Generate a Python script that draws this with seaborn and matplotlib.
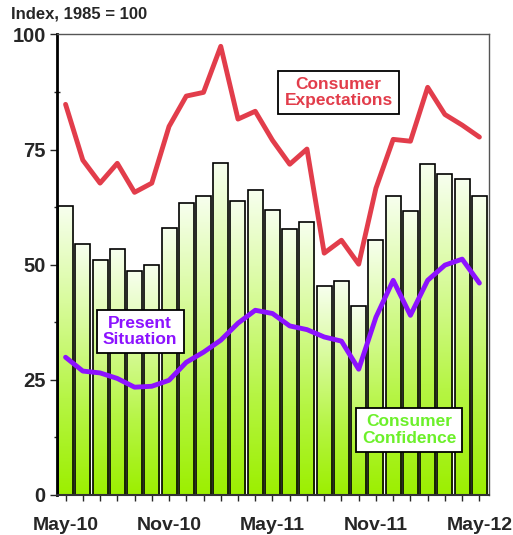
import numpy as np
import matplotlib
matplotlib.use("Agg")
import matplotlib.pyplot as plt
from matplotlib.colors import LinearSegmentedColormap
import seaborn as sns

# monthly index values, 1985 = 100
months = ["May-10", "Jun-10", "Jul-10", "Aug-10", "Sep-10", "Oct-10", "Nov-10",
          "Dec-10", "Jan-11", "Feb-11", "Mar-11", "Apr-11", "May-11", "Jun-11",
          "Jul-11", "Aug-11", "Sep-11", "Oct-11", "Nov-11", "Dec-11", "Jan-12",
          "Feb-12", "Mar-12", "Apr-12", "May-12"]
confidence = [62.7, 54.4, 51.0, 53.4, 48.6, 49.9, 57.9, 63.3, 64.9, 72.0, 63.9,
              66.2, 61.8, 57.7, 59.2, 45.3, 46.4, 41.0, 55.3, 64.9, 61.6, 71.8,
              69.6, 68.5, 64.9]
expectations = [84.8, 72.7, 67.7, 72.0, 65.7, 67.7, 80.0, 86.6, 87.4, 97.4, 81.6,
                83.3, 77.0, 71.8, 75.1, 52.5, 55.3, 50.1, 66.6, 77.2, 76.8, 88.5,
                82.6, 80.3, 77.7]
present = [29.9, 26.9, 26.5, 25.3, 23.4, 23.6, 24.9, 28.8, 31.0, 33.6, 37.3,
           40.1, 39.4, 36.7, 35.9, 34.3, 33.4, 27.3, 38.6, 46.6, 39.0, 46.6,
           49.9, 51.2, 46.0]
shown_labels = ["May-10", "Nov-10", "May-11", "Nov-11", "May-12"]

RED = "#e23d4b"
PURPLE = "#8c12ff"
LIME = "#6cf02a"

sns.set_style("white")
plt.rcParams["font.family"] = ["Liberation Sans", "DejaVu Sans"]
plt.rcParams["font.weight"] = "bold"

fig = plt.figure(figsize=(5.13, 5.35), dpi=100)
ax = fig.add_axes([0.111, 0.0748, 0.842, 0.861])

sns.barplot(x=months, y=confidence, ax=ax, width=0.87, color="white",
            edgecolor="black", linewidth=1.2, zorder=2)

# white-to-green gradient fill in each bar
grad = LinearSegmentedColormap.from_list(
    "g", ["#9cef00", "#b6f545", "#d8fb9c", "#f7ffee"])
ramp = np.linspace(0, 1, 256).reshape(-1, 1)
for p in ax.patches:
    x0, y0 = p.get_x(), p.get_y()
    w, h = p.get_width(), p.get_height()
    im = ax.imshow(ramp, cmap=grad, aspect="auto", origin="lower",
                   extent=[x0, x0 + w, y0, y0 + h], zorder=1.5)
    im.set_clip_path(p)
    p.set_facecolor("none")

xs = np.arange(len(months))
sns.lineplot(x=xs, y=expectations, ax=ax, color=RED, linewidth=3.5, zorder=4)
sns.lineplot(x=xs, y=present, ax=ax, color=PURPLE, linewidth=3.5, zorder=4)

ax.set_xlim(-0.5, 24.55)
ax.set_ylim(0, 100)
ax.set_xticks(xs)
ax.set_xticklabels([m if m in shown_labels else "" for m in months],
                   fontsize=14, fontweight="bold")
ax.set_yticks([0, 25, 50, 75, 100])
ax.set_yticklabels(["0", "25", "50", "75", "100"], fontsize=14.5, fontweight="bold")
ax.set_yticks([12.5, 37.5, 62.5, 87.5], minor=True)
ax.tick_params(axis="x", direction="inout", length=9, width=1, pad=11, bottom=True)
ax.tick_params(axis="y", which="major", direction="out", length=5, width=1, left=True, pad=3)
ax.tick_params(axis="y", which="minor", direction="inout", length=5, width=1, left=True)
ax.set_xlabel("")
ax.set_ylabel("")

for side in ["top", "right"]:
    ax.spines[side].set_color("#555555")
    ax.spines[side].set_linewidth(1)
ax.spines["left"].set_color("black")
ax.spines["left"].set_linewidth(2)
ax.spines["bottom"].set_color("#333333")
ax.spines["bottom"].set_linewidth(1.5)

box = dict(boxstyle="square,pad=0.35", facecolor="white", edgecolor="black", linewidth=1.3)
for x, y, label, col in [(15.83, 87.4, "Consumer\nExpectations", RED),
                         (4.33, 35.5, "Present\nSituation", PURPLE),
                         (19.93, 14.1, "Consumer\nConfidence", LIME)]:
    ax.text(x, y, label, color=col, fontsize=12.5, fontweight="bold",
            ha="center", va="center", bbox=box, zorder=6, linespacing=1.1)

fig.text(0.021, 0.974, "Index, 1985 = 100", fontsize=12, fontweight="bold",
         ha="left", va="center")

fig.savefig("out.png", dpi=100)
